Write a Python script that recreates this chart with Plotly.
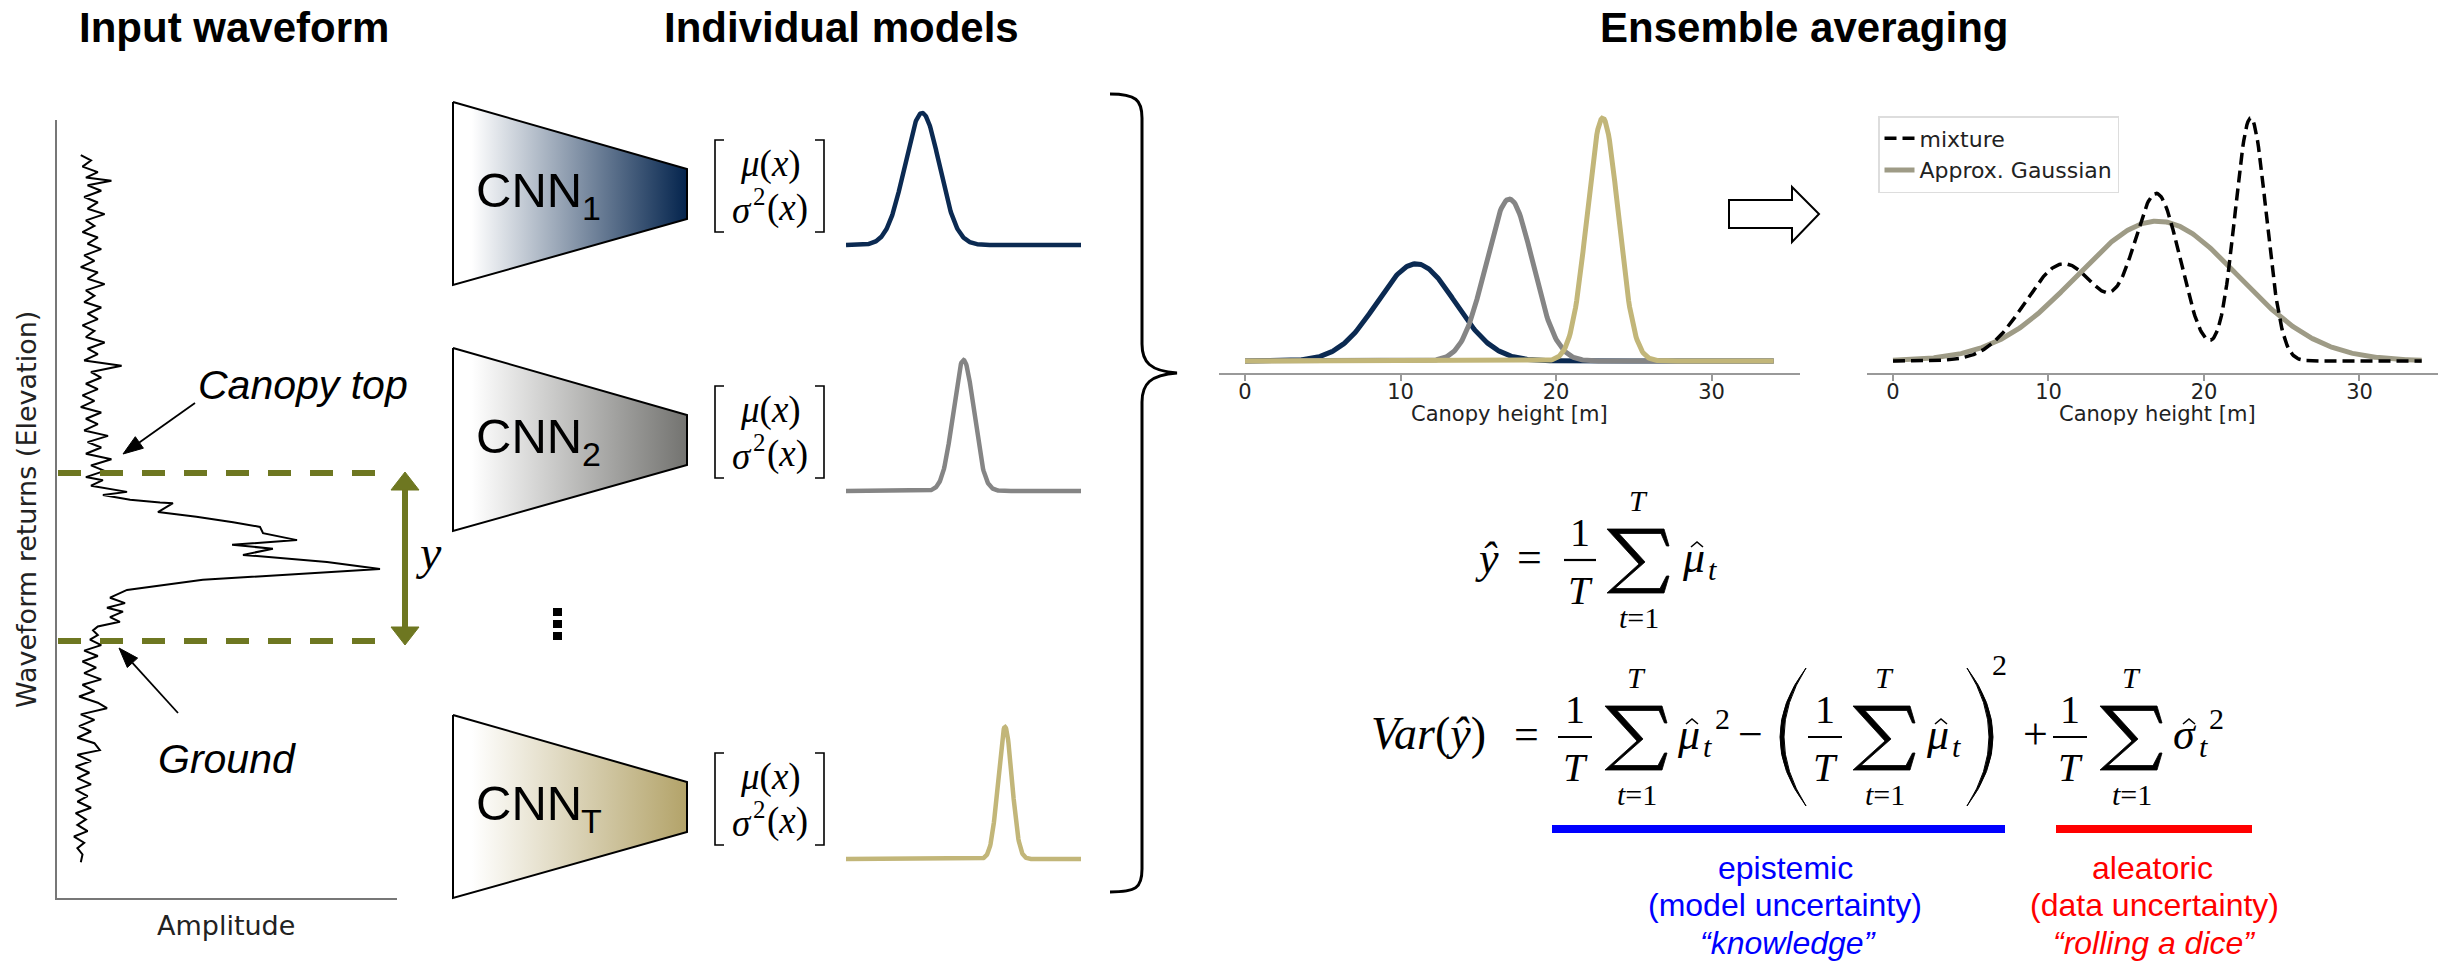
import numpy as np
import plotly.graph_objects as go

W, H = 2438, 962

# ---------------- data ----------------
WAVE_ELEV = [95.5, 94.8, 94.0, 93.3, 92.6, 92.2, 91.6, 90.9, 90.1, 89.4,
             88.6, 87.9, 87.1, 86.4, 85.6, 84.9, 84.1, 83.4, 82.6, 81.9,
             81.1, 80.4, 79.6, 78.9, 78.1, 77.4, 76.6, 75.9, 75.1, 74.4,
             73.6, 72.9, 72.1, 71.4, 70.6, 69.9, 69.1, 68.4, 67.6, 66.9,
             66.1, 65.4, 64.6, 63.9, 63.1, 62.4, 61.6, 60.9, 60.1, 59.4,
             58.6, 57.9, 57.1, 56.4, 55.6, 54.9, 54.1, 53.7, 53.0, 52.2,
             51.8, 51.2, 50.85, 50.75, 49.6, 49.0, 48.3, 47.7, 46.9, 46.0,
             45.4, 44.9, 44.1, 43.2, 42.3, 40.9, 39.6, 38.6, 37.9, 37.3,
             36.8, 36.1, 35.5, 34.9, 34.4, 33.8, 33.2, 32.5, 31.8, 31.1,
             30.4, 29.6, 28.9, 28.1, 27.4, 26.6, 25.9, 25.1, 24.4, 23.6,
             22.9, 22.1, 21.4, 20.6, 19.9, 19.0, 18.4, 17.6, 16.9, 16.1,
             15.4, 14.6, 13.9, 13.1, 12.4, 11.6, 10.9, 10.1, 9.4, 8.6,
             7.9, 7.1, 6.4, 5.6, 4.6]
WAVE_AMP = [0.07, 0.10, 0.075, 0.12, 0.085, 0.16, 0.09, 0.13, 0.08, 0.12,
            0.09, 0.14, 0.085, 0.11, 0.075, 0.12, 0.09, 0.13, 0.08, 0.11,
            0.07, 0.12, 0.09, 0.14, 0.085, 0.11, 0.08, 0.13, 0.09, 0.12,
            0.075, 0.11, 0.085, 0.14, 0.09, 0.12, 0.08, 0.19, 0.10, 0.13,
            0.085, 0.12, 0.075, 0.11, 0.07, 0.13, 0.085, 0.12, 0.08, 0.15,
            0.09, 0.13, 0.085, 0.16, 0.10, 0.14, 0.085, 0.135, 0.10, 0.206,
            0.135, 0.215, 0.303, 0.341, 0.297, 0.41, 0.518, 0.597, 0.606, 0.706,
            0.515, 0.635, 0.547, 0.794, 0.95, 0.429, 0.206, 0.156, 0.20, 0.147,
            0.194, 0.156, 0.185, 0.12, 0.106, 0.12, 0.097, 0.13, 0.08, 0.12,
            0.075, 0.115, 0.08, 0.13, 0.075, 0.11, 0.065, 0.12, 0.147, 0.07,
            0.11, 0.065, 0.10, 0.06, 0.11, 0.126, 0.06, 0.10, 0.055, 0.095,
            0.06, 0.10, 0.055, 0.09, 0.06, 0.10, 0.055, 0.085, 0.06, 0.09,
            0.05, 0.08, 0.06, 0.075, 0.07]

MODEL_SUBS = ["1", "2", "T"]
MODEL_MEANS = [11.0, 17.0, 23.0]
MODEL_SIGMAS = [2.5, 1.5, 1.0]
HEIGHT_TICKS = [0, 10, 20, 30]
HEIGHT_MAX = 34.0
MIX_NAME = "mixture"
APPROX_NAME = "Approx. Gaussian"

# ---------------- styles ----------------
CURVE_COLORS = ["#0b2a52", "#858585", "#c2b679"]
TRAP_COLORS = ["#04244d", "#737370", "#b3a369"]
OLIVE = "#6e7721"
APPROX_COLOR = "#9e9b86"
SANS = "Liberation Sans, Arial, sans-serif"
SERIF = "Liberation Serif, Times New Roman, serif"
DEJAVU = "DejaVu Sans, sans-serif"


def X(px):
    return px / W


def Y(py):
    return 1 - py / H


def pdf(x, m, s):
    return np.exp(-0.5 * ((x - m) / s) ** 2) / (s * np.sqrt(2 * np.pi))


fig = go.Figure()
ann = []
shapes = []


def text(s, x, y, size, family=SANS, color="black", xanchor="center",
         yanchor="middle", angle=0):
    ann.append(dict(text=s, x=x, y=y, xref="x", yref="y", showarrow=False,
                    font=dict(size=size, family=family, color=color),
                    xanchor=xanchor, yanchor=yanchor, textangle=angle))


def path(d, color="black", width=2, fill=None):
    sh = dict(type="path", path=d, xref="x", yref="y",
              line=dict(color=color, width=width))
    if fill:
        sh["fillcolor"] = fill
    shapes.append(sh)


def line(x0, y0, x1, y1, color="black", width=2, dash=None):
    ln = dict(color=color, width=width)
    if dash:
        ln["dash"] = dash
    shapes.append(dict(type="line", x0=x0, y0=y0, x1=x1, y1=y1,
                       xref="x", yref="y", line=ln))


def arrow(tx, ty, hx, hy, head=20, half=7, width=1.8):
    d = np.array([hx - tx, hy - ty], dtype=float)
    u = d / np.linalg.norm(d)
    n = np.array([-u[1], u[0]])
    base = np.array([hx, hy]) - head * u
    line(tx, ty, base[0], base[1], width=width)
    p1 = base + half * n
    p2 = base - half * n
    path(f"M{hx},{hy} L{p1[0]:.1f},{p1[1]:.1f} L{p2[0]:.1f},{p2[1]:.1f} Z",
         width=1, fill="black")


def hat(cx, cy, w=6, h=5):
    path(f"M{cx - w},{cy} L{cx},{cy - h} L{cx + w},{cy}", width=1.6)


SIGMA_OUTLINE = [(0, 0), (57, 0), (62, 17), (59.5, 17), (54, 4.5), (12, 4.5), (38, 33),
                 (8, 59.5), (53, 59.5), (59.5, 47), (62, 47), (57, 64), (0, 64), (32, 35)]


def sigma_glyph(cx, cy):
    x0, y0 = cx - 31, cy - 32
    pts = " L".join(f"{x0 + px:.1f},{y0 + py:.1f}" for px, py in SIGMA_OUTLINE)
    path("M" + pts + " Z", width=0.8, fill="black")


# ---------------- overlay pixel axis ----------------
layout_axes = {}
layout_axes["xaxis"] = dict(domain=[0, 1], range=[0, W], visible=False, fixedrange=True)
layout_axes["yaxis"] = dict(domain=[0, 1], range=[H, 0], visible=False, fixedrange=True)

# ---------------- CNN trapezoids (gradient filled) ----------------
TRAP_TOP = [102, 348, 715]
for i, top in enumerate(TRAP_TOP):
    fig.add_trace(go.Scatter(
        x=[453, 687, 687, 453, 453],
        y=[top, top + 67, top + 117, top + 183, top],
        xaxis="x", yaxis="y", mode="lines", fill="toself",
        fillgradient=dict(type="horizontal",
                          colorscale=[[0, "#ffffff"], [0.08, "#ffffff"], [1, TRAP_COLORS[i]]]),
        line=dict(color="black", width=2), showlegend=False, hoverinfo="skip"))
    cy = top + 88
    text("CNN", 529, cy, 49)
    text(MODEL_SUBS[i], 591, cy + 18, 34)
    b0, b1 = top + 38, top + 130
    path(f"M724,{b0} L715,{b0} L715,{b1} L724,{b1}", width=1.6)
    path(f"M815,{b0} L824,{b0} L824,{b1} L815,{b1}", width=1.6)
    text("<i>μ</i>(<i>x</i>)", 770, top + 62, 37, family=SERIF)
    # sigma^2(x) built from pieces
    text("<i>σ</i>", 742, top + 108, 37, family=SERIF)
    text("2", 759, top + 94, 25, family=SERIF)
    text("(<i>x</i>)", 787, top + 106, 37, family=SERIF)

for yy in (608, 620, 632):
    shapes.append(dict(type="rect", x0=553, x1=562, y0=yy, y1=yy + 8, xref="x", yref="y",
                       fillcolor="black", line=dict(width=0)))

# ---------------- waveform ----------------
layout_axes["xaxis2"] = dict(domain=[X(57), X(397)], range=[0, 1], anchor="y2",
                             showline=True, linecolor="#777777", linewidth=2,
                             showticklabels=False, ticks="", showgrid=False, zeroline=False)
layout_axes["yaxis2"] = dict(domain=[Y(898), Y(120)], range=[0, 100], anchor="x2",
                             showline=True, linecolor="#777777", linewidth=2,
                             showticklabels=False, ticks="", showgrid=False, zeroline=False)
fig.add_trace(go.Scatter(x=WAVE_AMP, y=WAVE_ELEV, xaxis="x2", yaxis="y2", mode="lines",
                         line=dict(color="black", width=2), showlegend=False,
                         hoverinfo="skip"))

line(58, 473, 377, 473, color=OLIVE, width=6, dash="23px,19px")
line(58, 641, 377, 641, color=OLIVE, width=6, dash="23px,19px")
line(405, 486, 405, 631, color=OLIVE, width=6)
path("M405,472 L391,490 L419,490 Z", color=OLIVE, width=1, fill=OLIVE)
path("M405,645 L391,627 L419,627 Z", color=OLIVE, width=1, fill=OLIVE)
text("<i>y</i>", 428, 552, 48, family=SERIF)

text("<i>Canopy top</i>", 303, 385, 41)
text("<i>Ground</i>", 227, 759, 41)
arrow(195, 403, 123, 454)
arrow(178, 713, 119, 648)
text("Waveform returns (Elevation)", 26, 510, 27, family=DEJAVU, color="#222", angle=-90)
text("Amplitude", 226, 925, 27, family=DEJAVU, color="#222")

# ---------------- titles ----------------
text("<b>Input waveform</b>", 234, 27, 42)
text("<b>Individual models</b>", 841, 27, 42)
text("<b>Ensemble averaging</b>", 1804, 27, 42)

# ---------------- individual model curves ----------------
grid = np.linspace(0, HEIGHT_MAX, 500)
MINI_BASE = [245, 491, 859]
MINI_PEAK = [113, 360, 727]
for i in range(3):
    k = 3 + i
    yv = pdf(grid, MODEL_MEANS[i], MODEL_SIGMAS[i])
    pk = float(yv.max())
    scale = pk / (MINI_BASE[i] - MINI_PEAK[i])
    top_px, bot_px = MINI_PEAK[i] - 10, MINI_BASE[i] + 10
    layout_axes[f"xaxis{k}"] = dict(domain=[X(846), X(1081)], range=[0, HEIGHT_MAX],
                                    anchor=f"y{k}", visible=False)
    layout_axes[f"yaxis{k}"] = dict(domain=[Y(bot_px), Y(top_px)],
                                    range=[-10 * scale, pk + 10 * scale],
                                    anchor=f"x{k}", visible=False)
    fig.add_trace(go.Scatter(x=grid, y=yv, xaxis=f"x{k}", yaxis=f"y{k}", mode="lines",
                             line=dict(color=CURVE_COLORS[i], width=4.5),
                             showlegend=False, hoverinfo="skip"))

# brace
path("M1110,94 C1136,94 1142,100 1142,118 L1142,344 C1142,362 1150,371 1177,373 "
     "C1150,375 1142,384 1142,402 L1142,869 C1142,888 1136,892 1110,892", width=3)

# ---------------- ensemble plots ----------------
PX_PER_UNIT = 15.55
axis_px = 373
base_px = 361
top_px = 100


def ens_axes(k, zero_px, right_clip, yscale_px):
    xr0 = -1.7
    xr1 = min(35.7, (right_clip - zero_px) / PX_PER_UNIT)
    r0 = -(axis_px - base_px) / yscale_px
    r1 = r0 + (axis_px - top_px) / yscale_px
    layout_axes[f"xaxis{k}"] = dict(
        domain=[X(zero_px + xr0 * PX_PER_UNIT), X(zero_px + xr1 * PX_PER_UNIT)],
        range=[xr0, xr1], anchor=f"y{k}", showline=True, linecolor="#999999",
        linewidth=1.5, ticks="outside", ticklen=6, tickwidth=1.5, tickcolor="#999999",
        tickvals=HEIGHT_TICKS, tickfont=dict(family=DEJAVU, size=21, color="#222222"),
        ticklabelstandoff=-7,
        showgrid=False, zeroline=False)
    layout_axes[f"yaxis{k}"] = dict(domain=[Y(axis_px), Y(top_px)], range=[r0, r1],
                                    anchor=f"x{k}", visible=False)


ens_axes(6, 1245, 1800, 609.0)
ens_axes(7, 1893, W, 609.0 * 3)

for i in range(3):
    fig.add_trace(go.Scatter(x=grid, y=pdf(grid, MODEL_MEANS[i], MODEL_SIGMAS[i]),
                             xaxis="x6", yaxis="y6", mode="lines",
                             line=dict(color=CURVE_COLORS[i], width=5),
                             showlegend=False, hoverinfo="skip"))

mix = np.mean([pdf(grid, m, s) for m, s in zip(MODEL_MEANS, MODEL_SIGMAS)], axis=0)
mu_all = float(np.mean(MODEL_MEANS))
var_all = float(np.mean(np.square(MODEL_SIGMAS)) + np.mean(np.square(MODEL_MEANS)) - mu_all ** 2)
approx = pdf(grid, mu_all, np.sqrt(var_all))
fig.add_trace(go.Scatter(x=grid, y=approx, xaxis="x7", yaxis="y7", mode="lines",
                         name=APPROX_NAME, legendrank=2,
                         line=dict(color=APPROX_COLOR, width=5), hoverinfo="skip"))
fig.add_trace(go.Scatter(x=grid, y=mix, xaxis="x7", yaxis="y7", mode="lines",
                         name=MIX_NAME, legendrank=1,
                         line=dict(color="black", width=3.5, dash="12px,6px"),
                         hoverinfo="skip"))

text("Canopy height [m]", 1509, 414, 21, family=DEJAVU, color="#222")
text("Canopy height [m]", 2157, 414, 21, family=DEJAVU, color="#222")

path("M1729,200 L1792,200 L1792,187 L1819,214 L1792,242 L1792,228 L1729,228 Z",
     width=2, fill="white")

# ---------------- equations ----------------
def frac(cx, A, half=17):
    text("1", cx, A - 27.5, 40, family=SERIF)
    line(cx - half, A, cx + half, A, width=2.2)
    text("<i>T</i>", cx, A + 30.5, 40, family=SERIF)


def bigsum(cx, A):
    sigma_glyph(cx, A + 1)
    text("<i>T</i>", cx, A - 60, 30, family=SERIF)
    text("<i>t</i>=1", cx + 1, A + 57, 30, family=SERIF)


def hatted(sym, cx, A, sub_dx=19):
    text(f"<i>{sym}</i>", cx, A - 3, 44, family=SERIF)
    hat(cx + 4, A - 13)
    text("<i>t</i>", cx + sub_dx, A + 9, 30, family=SERIF)


# eq 1
A1 = 560
text("<i>ŷ</i>", 1487, A1 - 2, 44, family=SERIF)
text("=", 1529, A1 - 3, 44, family=SERIF)
frac(1580, A1, 16)
bigsum(1638, A1)
hatted("μ", 1693, A1)

# eq 2
A2 = 737
text("<i>Var</i>(<i>ŷ</i>)", 1428, A2 - 4, 46, family=SERIF)
text("=", 1526, A2 - 3, 44, family=SERIF)
frac(1575, A2, 17)
bigsum(1636, A2)
hatted("μ", 1688, A2)
text("2", 1722, A2 - 19, 30, family=SERIF)
text("−", 1750, A2 - 3, 44, family=SERIF)
path("M1806,668 Q1754,737 1806,806 Q1762,737 1806,668 Z", width=1, fill="black")
frac(1825, A2, 17)
bigsum(1884, A2)
hatted("μ", 1937, A2)
path("M1967,668 Q2019,737 1967,806 Q2011,737 1967,668 Z", width=1, fill="black")
text("2", 1999, 664, 30, family=SERIF)
text("+", 2035, A2 - 3, 44, family=SERIF)
frac(2070, A2, 17)
bigsum(2131, A2)
hatted("σ", 2185, A2, sub_dx=18)
text("2", 2216, A2 - 19, 30, family=SERIF)

# uncertainty bars + labels
BLUE, RED = "#0000ff", "#ff0000"
shapes.append(dict(type="rect", x0=1552, x1=2005, y0=825, y1=833, xref="x", yref="y",
                   fillcolor=BLUE, line=dict(width=0)))
shapes.append(dict(type="rect", x0=2056, x1=2252, y0=825, y1=833, xref="x", yref="y",
                   fillcolor=RED, line=dict(width=0)))
text("epistemic", 1785, 868, 32, color=BLUE)
text("(model uncertainty)", 1785, 905, 32, color=BLUE)
text("<i>“knowledge”</i>", 1788, 943, 32, color=BLUE)
text("aleatoric", 2152, 868, 32, color=RED)
text("(data uncertainty)", 2154, 905, 32, color=RED)
text("<i>“rolling a dice”</i>", 2154, 943, 32, color=RED)

fig.update_layout(
    width=W, height=H, autosize=False,
    margin=dict(l=0, r=0, t=0, b=0),
    paper_bgcolor="white", plot_bgcolor="rgba(0,0,0,0)",
    showlegend=True,
    legend=dict(x=X(1878), y=Y(116), xanchor="left", yanchor="top",
                bgcolor="white", bordercolor="#dddddd", borderwidth=1.5,
                font=dict(family=DEJAVU, size=22, color="#222222"),
                tracegroupgap=0),
    annotations=ann, shapes=shapes,
    **layout_axes,
)

fig.write_html("out.html", config={"displayModeBar": False})
